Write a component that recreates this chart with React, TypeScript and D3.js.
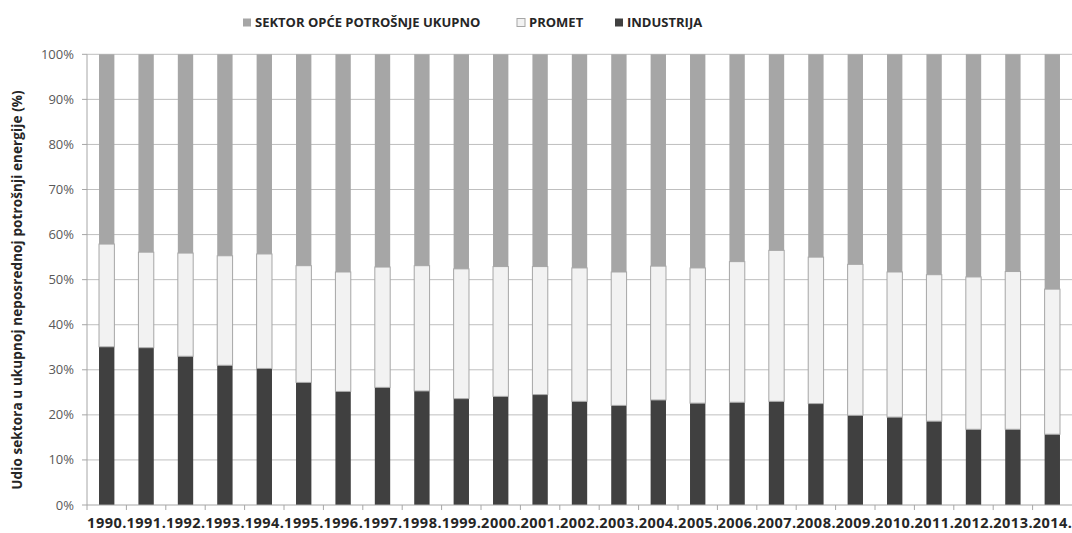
import React from "react";
import * as d3 from "d3";

const years = ["1990.", "1991.", "1992.", "1993.", "1994.", "1995.", "1996.", "1997.", "1998.", "1999.", "2000.", "2001.", "2002.", "2003.", "2004.", "2005.", "2006.", "2007.", "2008.", "2009.", "2010.", "2011.", "2012.", "2013.", "2014."];
const industrija = [35.1, 34.9, 33.0, 31.0, 30.3, 27.2, 25.2, 26.1, 25.3, 23.6, 24.1, 24.5, 23.0, 22.1, 23.3, 22.6, 22.8, 23.0, 22.5, 19.9, 19.5, 18.6, 16.8, 16.8, 15.7];
const prometTop = [57.9, 56.1, 55.9, 55.3, 55.7, 53.1, 51.7, 52.8, 53.1, 52.4, 52.9, 52.9, 52.6, 51.7, 53.0, 52.6, 54.0, 56.5, 55.0, 53.4, 51.7, 51.1, 50.6, 51.8, 47.9];
const promet = prometTop.map((t, i) => +(t - industrija[i]).toFixed(1));
const sektor = prometTop.map((t) => +(100 - t).toFixed(1));
const yTicks = [0, 10, 20, 30, 40, 50, 60, 70, 80, 90, 100];

const seriesKeys = ["industrija", "promet", "sektor"];
const seriesColors: Record<string, string> = { industrija: "#404040", promet: "#f2f2f2", sektor: "#a6a6a6" };
const legendItems = [
  { key: "sektor", label: "SEKTOR OPĆE POTROŠNJE UKUPNO", x: 243 },
  { key: "promet", label: "PROMET", x: 517 },
  { key: "industrija", label: "INDUSTRIJA", x: 615 },
];

const W = 1072, H = 533;
const left = 87, right = 1072, top = 54.3, bottom = 505;

export default function App() {
  const rows = years.map((y, i) => ({ year: y, industrija: industrija[i], promet: promet[i], sektor: sektor[i] }));
  const stacked = d3.stack<any>().keys(seriesKeys)(rows);
  const x = d3.scaleBand<string>().domain(years).range([left, right]).paddingInner(0.61).paddingOuter(0.305);
  const xc = d3.scaleBand<string>().domain(years).range([left, right]);
  const y = d3.scaleLinear().domain([0, 100]).range([bottom, top]);
  const font = "'Open Sans', sans-serif";
  return (
    <svg width={W} height={H} style={{ position: "absolute", left: 0, top: 0, background: "#fff" }}>
      <rect width={W} height={H} fill="#fff" />
      {yTicks.map((t) => (
        <g key={t}>
          {t > 0 && <line x1={left} x2={right} y1={y(t)} y2={y(t)} stroke="#bfbfbf" strokeWidth={1} />}
          <line x1={left - 5} x2={left} y1={y(t)} y2={y(t)} stroke="#a6a6a6" />
          <text x={74} y={y(t)} dy="0.35em" textAnchor="end" fontFamily={font} fontSize={13} fill="#595959">{t}%</text>
        </g>
      ))}
      {stacked.map((s) => (
        <g key={s.key}>
          {s.map((d, i) => (
            <rect key={i} x={x(years[i])!} width={x.bandwidth()} y={y(d[1])} height={y(d[0]) - y(d[1])}
              fill={seriesColors[s.key]} stroke={s.key === "promet" ? "#a6a6a6" : "none"} strokeWidth={1} />
          ))}
        </g>
      ))}
      <line x1={left} x2={left} y1={top} y2={bottom} stroke="#a6a6a6" />
      <line x1={left} x2={right} y1={bottom} y2={bottom} stroke="#a6a6a6" />
      {years.map((yr, i) => (
        <line key={"t" + i} x1={xc(yr)!} x2={xc(yr)!} y1={bottom} y2={bottom + 5} stroke="#a6a6a6" />
      ))}
      {years.map((yr) => (
        <text key={yr} x={xc(yr)! + xc.bandwidth() / 2 + 0.3} y={528} textAnchor="middle" fontFamily={font} fontSize={14.5} fontWeight={700} fill="#262626" letterSpacing={0.5}>{yr}</text>
      ))}
      <text transform={`translate(22,290) rotate(-90)`} textAnchor="middle" fontFamily={font} fontSize={13.5} fontWeight={700} fill="#262626" letterSpacing={0.1}>Udio sektora u ukupnoj neposrednoj potrošnji energije  (%)</text>
      {legendItems.map((l) => (
        <g key={l.key}>
          <rect x={l.x} y={18.5} width={8} height={8} fill={seriesColors[l.key]} stroke={l.key === "promet" ? "#a6a6a6" : "none"} />
          <text x={l.x + 12} y={27} fontFamily={font} fontSize={13} fontWeight={700} fill="#262626">{l.label}</text>
        </g>
      ))}
    </svg>
  );
}
